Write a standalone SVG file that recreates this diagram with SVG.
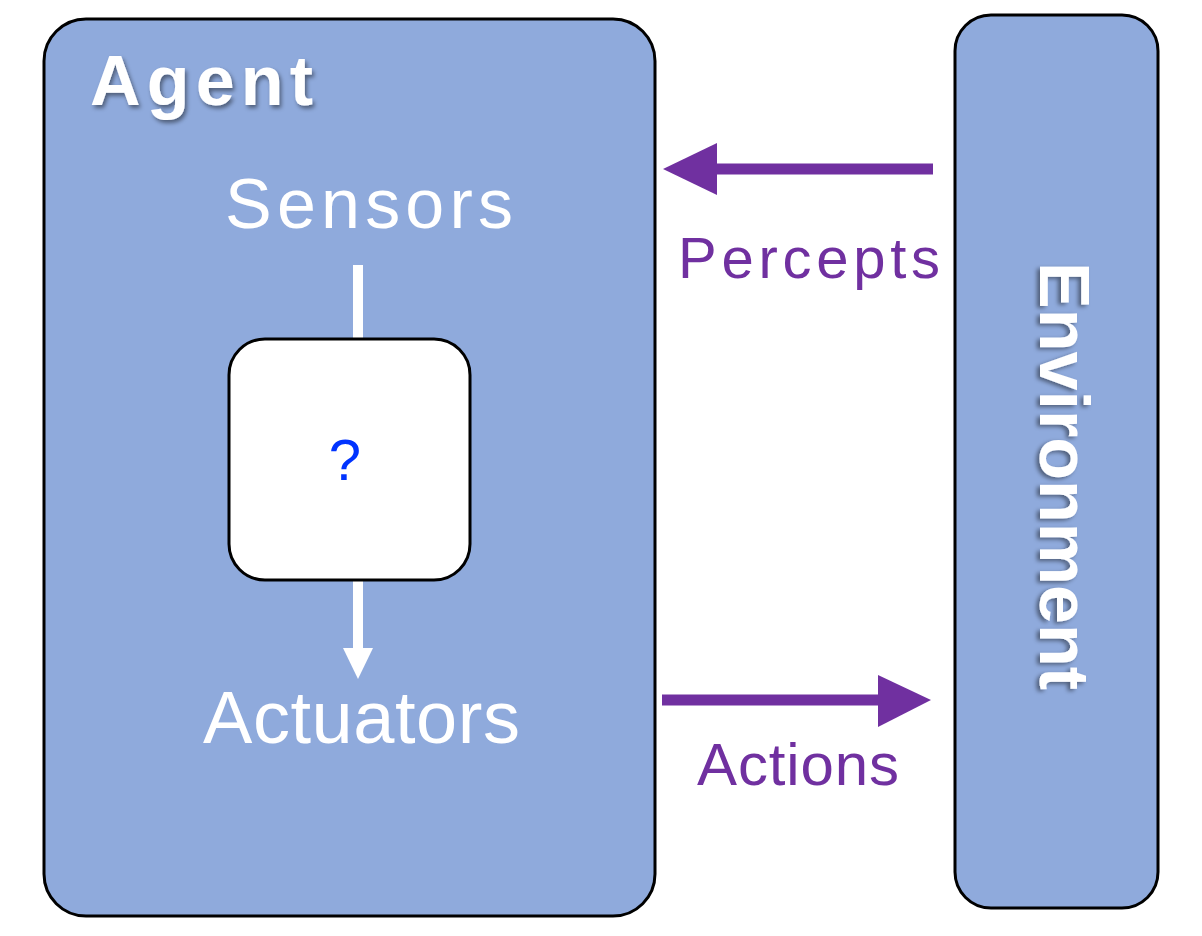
<svg xmlns="http://www.w3.org/2000/svg" width="1202" height="936" viewBox="0 0 1202 936">
<defs>
<style>
.box{fill:#8FAADC;stroke:#000;stroke-width:3}
.inner{fill:#fff;stroke:#000;stroke-width:3}
.wt{fill:#fff;font-family:"Liberation Sans",Arial,sans-serif}
.pt{fill:#7030A0;font-family:"Liberation Sans",Arial,sans-serif}
.pl{stroke:#7030A0;stroke-width:11;fill:none}
.wl{stroke:#fff;stroke-width:10;fill:none}
</style>
<filter id="sh" x="-10%" y="-10%" width="120%" height="130%">
<feDropShadow dx="2" dy="3" stdDeviation="2" flood-color="#000" flood-opacity="0.45"/>
</filter>
</defs>
<g id="agent">
<rect class="box" x="44" y="19" width="611" height="897" rx="42"/>
<text class="wt" x="90" y="105" font-size="70" font-weight="bold" textLength="223" lengthAdjust="spacing" filter="url(#sh)">Agent</text>
<text class="wt" x="225" y="228" font-size="70" textLength="288" lengthAdjust="spacing">Sensors</text>
<text class="wt" x="203" y="743" font-size="74" textLength="317" lengthAdjust="spacing">Actuators</text>
</g>
<g id="environment">
<rect class="box" x="955" y="15" width="203" height="893" rx="36"/>
<text class="wt" transform="translate(1040,262) rotate(90)" x="0" y="0" font-size="70" font-weight="bold" textLength="428" lengthAdjust="spacingAndGlyphs" filter="url(#sh)">Environment</text>
</g>
<g id="connectors">
<line class="wl" x1="358" y1="265" x2="358" y2="340"/>
<line class="wl" x1="358" y1="580" x2="358" y2="650"/>
<polygon points="343,648 373,648 358,679" fill="#fff"/>
<line class="pl" x1="933" y1="169" x2="714" y2="169"/>
<polygon points="717,143 717,195 663,169" fill="#7030A0"/>
<line class="pl" x1="662" y1="700" x2="880" y2="700"/>
<polygon points="878,675 878,727 931,700" fill="#7030A0"/>
<text class="pt" x="678" y="278" font-size="58" textLength="262" lengthAdjust="spacing">Percepts</text>
<text class="pt" x="697" y="785" font-size="60" textLength="202" lengthAdjust="spacing">Actions</text>
</g>
<g id="function">
<rect class="inner" x="229" y="339" width="241" height="241" rx="36"/>
<text x="345" y="480" font-size="58" fill="#0033FF" text-anchor="middle" font-family="Liberation Sans,Arial,sans-serif">?</text>
</g>
</svg>
